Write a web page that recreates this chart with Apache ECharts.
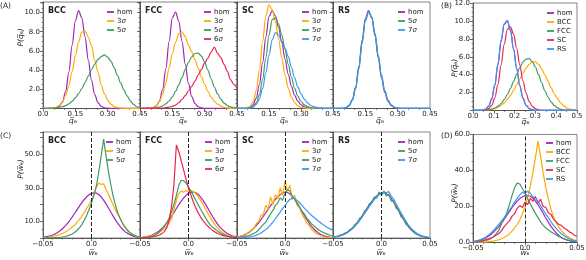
<!DOCTYPE html>
<html><head><meta charset="utf-8">
<script src="https://cdn.jsdelivr.net/npm/echarts@6/dist/echarts.min.js"></script>
<style>html,body{margin:0;padding:0;background:#fff}#c{width:586px;height:260px}</style>
</head><body><div id="c"></div>
<script>
// ---------- grids of x values ----------
const qGrid = [0,0.015,0.03,0.045,0.06,0.075,0.09,0.105,0.12,0.135,0.15,0.165,0.18,0.195,0.21,0.225,0.24,0.255,0.27,0.285,0.3,0.315,0.33,0.345,0.36,0.375,0.39,0.405,0.42,0.435,0.45];
const bGrid = [0,0.015,0.03,0.045,0.06,0.075,0.09,0.105,0.12,0.135,0.15,0.165,0.18,0.195,0.21,0.225,0.24,0.255,0.27,0.285,0.3,0.315,0.33,0.345,0.36,0.375,0.39,0.405,0.42,0.435,0.45,0.465,0.48,0.495];
const wGrid = [-0.05,-0.0475,-0.045,-0.0425,-0.04,-0.0375,-0.035,-0.0325,-0.03,-0.0275,-0.025,-0.0225,-0.02,-0.0175,-0.015,-0.0125,-0.01,-0.0075,-0.005,-0.0025,0,0.0025,0.005,0.0075,0.01,0.0125,0.015,0.0175,0.02,0.0225,0.025,0.0275,0.03,0.0325,0.035,0.0375,0.04,0.0425,0.045,0.0475,0.05];

// ---------- panel A : P(q6) ----------
const bccQHom = [0.02,0.02,0.03,0.04,0.08,0.22,0.65,1.76,3.79,6.57,9.14,10.2,9.44,7.47,5.06,2.93,1.45,0.62,0.22,0.07,0.03,0.02,0.02,0.02,0.02,0.02,0.02,0.02,0.02,0.02,0.02];
const bccQ3   = [0.02,0.02,0.02,0.05,0.12,0.31,0.69,1.36,2.41,3.84,5.46,6.94,7.95,8.1,7.45,6.55,5.0,3.8,2.45,1.55,0.86,0.45,0.22,0.1,0.04,0.02,0.02,0.02,0.02,0.02,0.02];
const bccQ5   = [0.01,0.01,0.02,0.03,0.06,0.11,0.19,0.31,0.49,0.75,1.1,1.54,2.08,2.7,3.37,4.03,4.64,5.12,5.4,5.58,5.35,4.94,4.26,3.47,2.67,1.94,1.32,0.8,0.42,0.18,0.06];
const fccQHom = [0.02,0.02,0.03,0.04,0.09,0.26,0.75,1.98,4.15,7.0,9.45,10.05,9.1,7.0,4.6,2.6,1.25,0.52,0.18,0.06,0.02,0.02,0.02,0.02,0.02,0.02,0.02,0.02,0.02,0.02,0.02];
const fccQ3   = [0.02,0.02,0.02,0.03,0.1,0.3,0.7,1.5,2.7,4.2,5.7,6.9,7.8,8.0,7.5,6.6,5.9,5.1,4.2,3.3,2.5,1.8,1.2,0.75,0.45,0.25,0.12,0.05,0.02,0.02,0.02];
const fccQ5   = [0.01,0.01,0.01,0.02,0.04,0.08,0.15,0.28,0.48,0.78,1.21,1.78,2.47,3.25,4.05,4.8,5.39,5.73,5.78,5.46,4.84,4.0,3.1,2.24,1.52,0.96,0.57,0.32,0.16,0.07,0.03];
const fccQ6   = [0.01,0.01,0.01,0.01,0.02,0.02,0.03,0.05,0.09,0.15,0.22,0.36,0.6,0.95,1.35,1.85,2.3,2.85,3.5,4.05,4.75,5.25,5.9,6.4,5.75,5.3,4.6,3.9,3.0,2.5,2.1];
const scQHom  = [0.01,0.01,0.02,0.03,0.11,0.39,1.08,2.5,4.76,7.44,9.58,10.18,9.65,8.46,6.87,5.16,3.59,2.31,1.38,0.76,0.39,0.18,0.08,0.03,0.02,0.01,0.01,0.01,0.01,0.01,0.01];
const scQ3    = [0.01,0.01,0.01,0.05,0.21,0.69,1.86,4.02,6.96,9.67,10.8,10.33,9.02,7.2,5.26,3.51,2.14,1.19,0.61,0.28,0.12,0.05,0.02,0.01,0.01,0.01,0.01,0.01,0.01,0.01,0.01];
const scQ5    = [0.01,0.01,0.01,0.01,0.05,0.19,0.57,1.44,3.02,5.27,7.65,9.26,9.43,8.8,7.64,6.17,4.64,3.25,2.12,1.29,0.73,0.38,0.19,0.09,0.04,0.02,0.01,0.01,0.01,0.01,0.01];
const scQ7    = [0.01,0.01,0.01,0.01,0.05,0.15,0.42,1.01,2.09,3.68,5.54,7.15,7.9,7.65,7.0,6.3,5.45,4.3,3.2,2.25,1.52,0.97,0.59,0.34,0.19,0.1,0.05,0.02,0.01,0.01,0.01];
const rsQHom  = [0.01,0.01,0.01,0.01,0.09,0.33,0.95,2.26,4.42,7.09,9.37,10.2,9.41,7.56,5.27,3.19,1.68,0.77,0.3,0.1,0.03,0.01,0.01,0.01,0.01,0.01,0.01,0.01,0.01,0.01,0.01];
const rsQ5    = [0.01,0.01,0.01,0.01,0.08,0.3,0.9,2.15,4.25,6.9,9.2,10.1,9.5,7.7,5.45,3.35,1.8,0.85,0.34,0.12,0.04,0.01,0.01,0.01,0.01,0.01,0.01,0.01,0.01,0.01,0.01];
const rsQ7    = [0.01,0.01,0.01,0.01,0.07,0.28,0.85,2.05,4.1,6.75,9.1,10.05,9.55,7.85,5.6,3.5,1.9,0.9,0.37,0.13,0.05,0.01,0.01,0.01,0.01,0.01,0.01,0.01,0.01,0.01,0.01];

// ---------- panel B ----------
const bHom = [0.01,0.01,0.01,0.03,0.12,0.45,1.25,2.8,5.1,7.7,9.6,10.0,9.0,6.9,4.7,2.8,1.4,0.6,0.23,0.08,0.02,0.01,0.01,0.01,0.01,0.01,0.01,0.01,0.01,0.01,0.01,0.01,0.01,0.01];
const bBcc = [0.01,0.01,0.02,0.03,0.04,0.07,0.13,0.22,0.36,0.56,0.84,1.22,1.68,2.24,2.87,3.52,4.16,4.73,5.16,5.4,5.43,5.17,4.65,4.0,3.3,2.55,1.9,1.35,0.9,0.55,0.3,0.15,0.06,0.02];
const bFcc = [0.01,0.01,0.01,0.02,0.04,0.08,0.15,0.28,0.48,0.78,1.21,1.78,2.47,3.25,4.05,4.8,5.39,5.73,5.78,5.46,4.84,4.0,3.1,2.24,1.52,0.96,0.57,0.32,0.16,0.07,0.03,0.02,0.01,0.01];
const bSc  = [0.01,0.01,0.01,0.02,0.06,0.2,0.58,1.42,2.93,5.07,7.39,9.04,9.34,8.52,6.95,5.07,3.31,1.94,1.01,0.47,0.2,0.08,0.03,0.01,0.01,0.01,0.01,0.01,0.01,0.01,0.01,0.01,0.01,0.01];
const bRs  = [0.01,0.01,0.01,0.03,0.15,0.5,1.35,2.95,5.3,7.9,9.7,10.05,8.9,6.8,4.6,2.7,1.35,0.58,0.22,0.07,0.02,0.01,0.01,0.01,0.01,0.01,0.01,0.01,0.01,0.01,0.01,0.01,0.01,0.01];

// ---------- panel C : P(w6) ----------
const bccWHom = [0.45,0.65,0.93,1.32,1.81,2.45,3.27,4.29,5.5,6.91,8.58,10.44,12.5,14.64,16.84,19.05,21.1,23.0,24.6,25.8,26.65,27.0,26.8,25.95,24.5,22.6,20.4,17.9,15.35,12.9,10.5,8.37,6.5,4.93,3.65,2.64,1.87,1.28,0.86,0.56,0.36];
const bccW3   = [0.2,0.3,0.45,0.65,0.9,1.2,1.6,2.1,2.7,3.4,4.3,5.3,6.6,7.6,9.3,11.0,13.0,15.3,17.6,20.0,22.5,26.0,30.5,32.8,32.0,32.4,29.0,26.0,22.8,19.5,16.5,13.6,11.2,8.5,6.3,4.5,3.1,2.1,1.3,0.8,0.5];
const bccW5   = [0.03,0.05,0.07,0.1,0.15,0.2,0.3,0.4,0.6,0.85,1.2,1.7,2.4,3.3,4.5,6.0,8.0,10.5,13.5,17.0,21.0,25.5,31.0,39.5,49.0,59.0,49.0,39.5,31.5,24.5,19.0,14.5,11.0,8.2,6.0,4.3,3.0,2.1,1.4,0.9,0.6];
const fccWHom = [0.28,0.42,0.63,0.91,1.29,1.81,2.48,3.33,4.37,5.63,7.18,8.9,10.9,13.0,15.3,17.6,19.9,22.0,23.9,25.5,26.7,27.3,27.5,27.0,26.0,24.4,22.5,20.2,17.7,15.2,12.7,10.4,8.3,6.5,5.0,3.72,2.71,1.94,1.36,0.92,0.61];
const fccW3   = [0.3,0.45,0.65,0.9,1.2,1.6,2.1,2.7,3.5,4.4,5.6,7.0,8.8,11.5,17.0,22.5,26.5,28.0,27.3,28.3,27.6,28.4,27.8,26.5,24.8,22.6,20.2,17.5,14.8,12.2,9.9,7.8,6.0,4.5,3.3,2.4,1.7,1.2,0.8,0.55,0.35];
const fccW5   = [0.15,0.25,0.35,0.5,0.75,1.1,1.6,2.4,3.6,5.2,7.0,9.0,11.8,15.5,20.0,25.5,31.5,34.5,34.2,32.8,30.5,28.0,25.3,22.5,19.8,17.2,14.6,12.0,9.8,7.8,6.2,5.2,4.1,3.1,2.3,1.7,1.2,0.85,0.6,0.4,0.25];
const fccW6   = [0.1,0.15,0.2,0.3,0.45,0.65,0.9,1.3,1.8,2.6,3.8,6.0,10.5,18.5,32.0,55.5,51.5,46.0,40.5,35.0,29.8,25.5,21.5,18.0,15.0,12.5,10.4,8.6,7.0,5.6,4.4,3.5,2.7,2.1,1.6,1.2,0.9,0.65,0.45,0.3,0.2];
const scWHom  = [0.6,0.9,1.3,1.8,2.5,3.4,4.5,5.9,7.4,9.1,11.0,13.0,15.1,17.2,19.3,21.2,23.0,24.6,25.9,26.9,27.5,27.2,26.4,25.0,23.2,21.0,18.6,16.1,13.6,11.2,9.0,7.1,5.4,4.0,2.9,2.1,1.5,1.0,0.7,0.45,0.3];
const scW3    = [0.5,0.8,1.5,1.2,2.4,3.0,4.8,5.6,8.5,9.9,13.5,14.2,19.5,17.0,24.5,20.0,26.0,23.5,30.0,25.5,34.0,28.0,31.5,23.0,25.5,19.5,18.5,14.5,12.0,9.0,7.5,5.2,4.0,2.6,2.0,1.2,0.9,0.5,0.4,0.2,0.1];
const scW5    = [0.3,0.4,0.6,0.8,1.1,1.5,2.0,2.7,3.6,4.8,6.5,8.2,9.5,12.0,14.5,16.5,19.5,21.0,24.0,22.5,26.5,29.0,28.0,25.0,23.5,21.0,18.5,16.0,14.5,12.0,10.5,8.6,7.4,6.0,4.9,4.0,3.3,2.6,2.0,1.5,1.2];
const scW7    = [0.2,0.25,0.3,0.4,0.5,0.7,0.9,1.2,1.6,2.2,3.0,4.0,5.0,6.3,7.8,9.6,11.5,13.5,15.5,17.5,19.5,21.5,23.0,23.8,23.5,22.6,21.2,19.6,18.0,16.5,15.0,13.6,12.4,11.2,10.0,8.9,7.8,6.9,6.0,5.3,4.7];
const rsWHom  = [0.52,0.75,1.07,1.5,2.05,2.76,3.65,4.74,6.05,7.57,9.3,11.2,13.3,15.5,17.7,19.9,21.9,23.7,25.1,26.2,26.8,27.0,26.5,25.4,23.6,21.5,19.0,16.4,13.8,11.3,9.0,7.0,5.3,3.9,2.8,1.97,1.34,0.89,0.57,0.36,0.22];
const rsW5    = [0.6,0.9,1.0,1.7,1.9,3.0,3.4,5.1,5.6,8.0,8.8,11.8,12.6,16.2,16.8,20.5,21.0,24.5,23.8,27.5,25.5,28.0,25.0,26.2,22.0,22.3,17.8,17.0,12.8,11.8,8.4,7.4,4.9,4.2,2.6,2.1,1.2,1.0,0.5,0.4,0.2];
const rsW7    = [0.4,0.6,0.9,1.3,1.8,2.4,3.3,4.3,5.5,6.9,8.6,10.4,12.4,14.5,16.7,18.9,20.9,22.9,24.5,25.8,26.6,27.6,27.0,27.8,25.0,23.2,20.5,17.8,15.2,12.6,10.2,8.0,6.2,4.6,3.4,2.4,1.7,1.2,0.8,0.5,0.3];

// ---------- panel D ----------
const dHom = [0.5,0.75,1.05,1.45,2.0,2.7,3.55,4.6,5.9,7.4,9.0,10.9,12.9,15.0,17.2,19.3,21.3,23.0,24.4,25.4,26.0,26.2,25.7,24.7,23.0,21.0,18.6,16.1,13.6,11.2,9.0,7.0,5.3,3.9,2.8,2.0,1.4,0.95,0.6,0.4,0.25];
const dBcc = [0.05,0.07,0.1,0.15,0.2,0.3,0.45,0.65,0.9,1.2,1.6,2.1,2.8,3.7,4.9,6.3,8.0,10.0,12.5,16.0,20.0,25.0,31.0,38.5,47.0,56.3,48.0,38.5,30.5,24.0,18.5,14.2,11.0,8.5,6.6,5.0,3.8,2.8,2.0,1.4,1.0];
const dFcc = [0.2,0.3,0.4,0.55,0.8,1.1,1.6,2.3,3.4,4.9,7.0,10.5,13.5,16.5,21.0,26.0,30.5,33.0,32.5,30.0,27.5,24.5,21.5,18.8,16.2,13.8,11.5,9.5,8.0,6.9,5.9,5.1,4.2,3.4,2.7,2.1,1.6,1.2,0.9,0.6,0.4];
const dSc  = [0.3,0.5,0.6,0.9,1.2,1.6,2.0,2.6,3.2,4.2,5.0,6.6,8.8,10.5,12.0,14.5,16.0,19.0,20.5,19.5,22.5,21.0,24.5,23.0,25.5,22.0,24.0,20.0,19.5,16.5,15.5,13.0,11.5,10.0,9.5,8.0,7.2,6.0,5.2,4.0,3.5];
const dRs  = [0.5,0.8,1.1,1.6,2.3,3.1,4.2,5.4,6.8,8.5,10.2,12.0,13.8,15.8,18.0,20.0,22.5,24.5,26.5,28.0,27.0,28.5,27.5,25.5,24.5,23.0,20.5,18.0,15.8,13.8,11.5,9.5,7.8,6.2,4.9,3.8,2.9,2.1,1.5,1.0,0.7];

// ---------- tick label values ----------
const aYLabels = [2,4,6,8,10];
const bYLabels = [2,4,6,8,10,12];
const cYLabels = [10,30,50];
const dYLabels = [0,20,40,60];

// ---------- styling ----------
const FONT = 'DejaVu Sans';
const C_HOM = '#a324b4', C_3 = '#ffaa00', C_5 = '#3f9b60', C_6 = '#e8264f', C_7 = '#3a97f2';
const AX = {color:'#444', width:0.8};
const AXm = {color:'#444', width:0.6};
const pairs = (xs, ys) => xs.map((x, i) => [x, ys[i]]);
const near = (v, list) => list.some(t => Math.abs(v - t) < 1e-6);
const fmtQ = v => Math.abs(v) < 1e-9 ? '0.0' : v.toFixed(2);
const fmtW = v => Math.abs(v) < 1e-9 ? '0.0' : (v < 0 ? '\u2212' : '') + Math.abs(v).toFixed(2);

const grids = [], xAxes = [], yAxes = [], series = [], legends = [];

function addPanel(p) {
  const k = grids.length;
  grids.push({left:p.left, top:p.top, width:p.width, height:p.height, show:true,
    borderColor:'#666', borderWidth:0.8, backgroundColor:'transparent', containLabel:false, outerBoundsMode:'none'});
  xAxes.push({type:'value', gridIndex:k, min:p.xmin, max:p.xmax, interval:p.xint,
    axisLine:{show:true, onZero:false, lineStyle:AX},
    axisTick:{show:true, length:3, lineStyle:AX},
    minorTick:{show:true, splitNumber:p.xminor, length:1.5, lineStyle:AXm},
    splitLine:{show:false},
    axisLabel:{fontSize:7, color:'#222', fontFamily:FONT, margin:2.5, formatter:p.xfmt,
      showMinLabel:p.xShowMin, showMaxLabel:p.xShowMax}});
  yAxes.push({type:'value', gridIndex:k, min:p.ymin, max:p.ymax, interval:p.yint,
    axisLine:{show:true, onZero:false, lineStyle:AX},
    axisTick:{show:true, length:3, lineStyle:AX},
    minorTick:{show:true, splitNumber:p.yminor, length:1.5, lineStyle:AXm},
    splitLine:{show:false},
    axisLabel:{show:!!p.yLabels, fontSize:7, color:'#222', fontFamily:FONT, margin:3,
      showMinLabel:true, showMaxLabel:true,
      formatter: v => (p.yLabels && near(v, p.yLabels)) ? v.toFixed(1) : ''}});
  p.curves.forEach((c, j) => {
    const s = {type:'line', name:c[0], xAxisIndex:k, yAxisIndex:k, data:pairs(p.grid, c[1]),
      showSymbol:false, symbol:'none', smooth:p.smooth, smoothMonotone:'x', color:c[2],
      lineStyle:{color:c[2], width:1.2}, z:2 + j, animation:false, silent:true};
    if (p.zeroLine && j === p.curves.length - 1) {
      s.markLine = {silent:true, symbol:['none','none'], label:{show:false}, animation:false,
        lineStyle:{type:[4,2], color:'#222', width:1}, emphasis:{disabled:true}, data:[{xAxis:0}]};
    }
    series.push(s);
  });
  legends.push({data:p.curves.map(c => c[0]), orient:'vertical', left:p.legLeft, top:p.legTop,
    itemWidth:7, itemHeight:1.8, itemGap:2, icon:'rect', padding:0, selectedMode:false,
    textStyle:{fontSize:7, color:'#222', fontFamily:FONT, padding:[0,0,0,-2],
      rich:{i:{fontStyle:'italic', fontSize:7, fontFamily:FONT, color:'#222'}}},
    formatter: n => n.replace('\u03c3', '{i|\u03c3}')});
}

// panel A
const aLefts = [43, 140, 237, 333], aWidths = [97, 97, 96, 97];
const aCurves = [
  [['hom', bccQHom, C_HOM], ['3\u03c3', bccQ3, C_3], ['5\u03c3', bccQ5, C_5]],
  [['hom', fccQHom, C_HOM], ['3\u03c3', fccQ3, C_3], ['5\u03c3', fccQ5, C_5], ['6\u03c3', fccQ6, C_6]],
  [['hom', scQHom, C_HOM], ['3\u03c3', scQ3, C_3], ['5\u03c3', scQ5, C_5], ['7\u03c3', scQ7, C_7]],
  [['hom', rsQHom, C_HOM], ['5\u03c3', rsQ5, C_5], ['7\u03c3', rsQ7, C_7]]
];
const aLeg = [107, 204, 302, 398];
aCurves.forEach((cv, i) => addPanel({left:aLefts[i], top:2, width:aWidths[i], height:106.5,
  xmin:0, xmax:0.45, xint:0.15, xminor:3, xfmt:fmtQ, xShowMin:i === 0, xShowMax:true,
  ymin:0, ymax:11.1, yint:2, yminor:4, yLabels:i === 0 ? aYLabels : null,
  grid:qGrid, curves:cv, smooth:0.35, legLeft:aLeg[i], legTop:8.5}));

// panel B
addPanel({left:473, top:3, width:104, height:107.5,
  xmin:0, xmax:0.5, xint:0.1, xminor:2, xfmt:v => v.toFixed(1), xShowMin:true, xShowMax:true,
  ymin:0, ymax:12, yint:2, yminor:4, yLabels:bYLabels,
  grid:bGrid, smooth:0.35, legLeft:547, legTop:9.5,
  curves:[['hom', bHom, C_HOM], ['BCC', bBcc, C_3], ['FCC', bFcc, C_5], ['SC', bSc, C_6], ['RS', bRs, C_7]]});

// panel C
const cCurves = [
  [['hom', bccWHom, C_HOM], ['3\u03c3', bccW3, C_3], ['5\u03c3', bccW5, C_5]],
  [['hom', fccWHom, C_HOM], ['3\u03c3', fccW3, C_3], ['5\u03c3', fccW5, C_5], ['6\u03c3', fccW6, C_6]],
  [['hom', scWHom, C_HOM], ['3\u03c3', scW3, C_3], ['5\u03c3', scW5, C_5], ['7\u03c3', scW7, C_7]],
  [['hom', rsWHom, C_HOM], ['5\u03c3', rsW5, C_5], ['7\u03c3', rsW7, C_7]]
];
const cLeg = [106, 205, 302, 398];
cCurves.forEach((cv, i) => addPanel({left:aLefts[i], top:132, width:aWidths[i], height:106,
  xmin:-0.05, xmax:0.05, xint:0.05, xminor:5, xfmt:fmtW, xShowMin:true, xShowMax:i === 3,
  ymin:0, ymax:63.3, yint:10, yminor:2, yLabels:i === 0 ? cYLabels : null,
  grid:wGrid, curves:cv, smooth:false, zeroLine:true, legLeft:cLeg[i], legTop:138.5}));

// panel D
addPanel({left:473, top:134.5, width:104, height:108,
  xmin:-0.05, xmax:0.05, xint:0.05, xminor:5, xfmt:fmtW, xShowMin:true, xShowMax:true,
  ymin:0, ymax:60, yint:20, yminor:4, yLabels:dYLabels,
  grid:wGrid, smooth:false, zeroLine:true, legLeft:546, legTop:139.5,
  curves:[['hom', dHom, C_HOM], ['BCC', dBcc, C_3], ['FCC', dFcc, C_5], ['SC', dSc, C_6], ['RS', dRs, C_7]]});

// ---------- text elements ----------
function txt(text, x, y, o) {
  o = o || {};
  return {type:'text', x:x, y:y, rotation:o.rot || 0, silent:true, z:100,
    style:{text:text, fill:'#222', fontSize:o.size || 7.5, fontFamily:FONT,
      fontWeight:o.bold ? 'bold' : 'normal', fontStyle:o.italic ? 'italic' : 'normal',
      align:o.align || 'left', verticalAlign:o.va || 'top'}};
}
const titles = ['BCC', 'FCC', 'SC', 'RS'];
const graphics = [
  txt('(A)', 0, 2), txt('(B)', 441, 2), txt('(C)', 0, 132), txt('(D)', 441, 132)
];
titles.forEach((t, i) => {
  graphics.push(txt(t, aLefts[i] + 5, 7, {bold:true, size:8}));
  graphics.push(txt(t, aLefts[i] + 5, 137, {bold:true, size:8}));
});
const qName = 'q\u0305\u2086', wName = 'w\u0305\u2086';
[73, 183, 284, 380].forEach(x => graphics.push(txt(qName, x, 121, {italic:true, align:'center', va:'middle'})));
[93, 189, 284, 381].forEach(x => graphics.push(txt(wName, x, 253, {italic:true, align:'center', va:'middle'})));
graphics.push(txt(qName, 525.5, 122, {italic:true, align:'center', va:'middle'}));
graphics.push(txt(wName, 525, 253.5, {italic:true, align:'center', va:'middle'}));
graphics.push(txt('P(' + qName + ')', 21.5, 37.5, {italic:true, align:'center', va:'middle', rot:Math.PI / 2}));
graphics.push(txt('P(' + wName + ')', 21.5, 169, {italic:true, align:'center', va:'middle', rot:Math.PI / 2}));
graphics.push(txt('P(' + qName + ')', 455, 68, {italic:true, align:'center', va:'middle', rot:Math.PI / 2}));
graphics.push(txt('P(' + wName + ')', 455, 193, {italic:true, align:'center', va:'middle', rot:Math.PI / 2}));

const chart = echarts.init(document.getElementById('c'), null, {renderer:'canvas', width:586, height:260});
chart.setOption({
  animation:false,
  backgroundColor:'#ffffff',
  textStyle:{fontFamily:FONT},
  grid:grids, xAxis:xAxes, yAxis:yAxes, series:series, legend:legends,
  graphic:{elements:graphics}
});
</script></body></html>
